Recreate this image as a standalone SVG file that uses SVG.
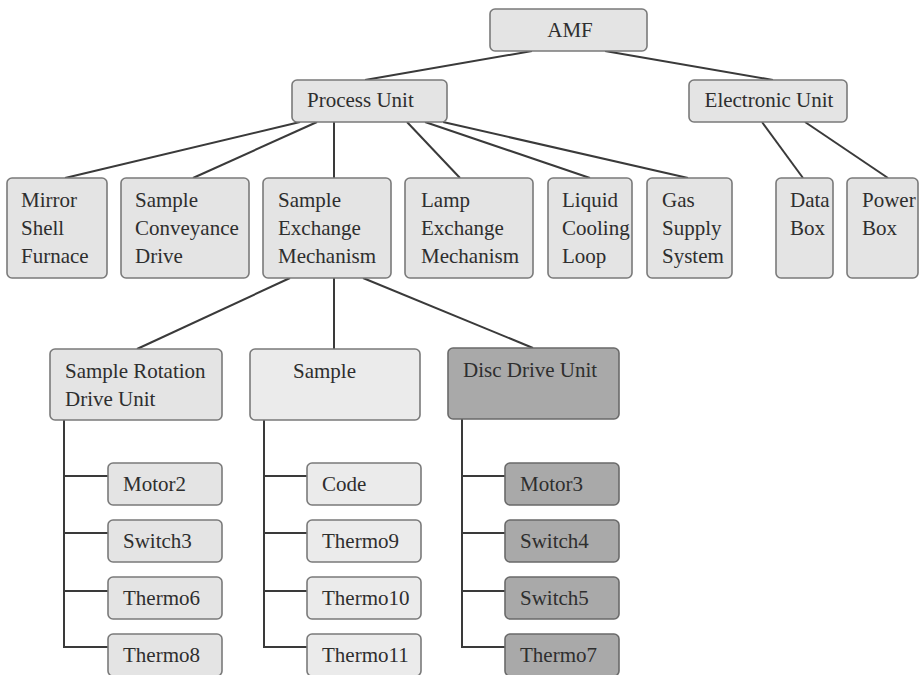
<svg xmlns="http://www.w3.org/2000/svg" width="920" height="675" viewBox="0 0 920 675">
<style>
.n{fill:#e4e4e4;stroke:#7a7a7a;stroke-width:1.6}
.d{fill:#a9a9a9;stroke:#6a6a6a;stroke-width:1.6}
.s{fill:#ebebeb;stroke:#7a7a7a;stroke-width:1.6}
text{font-family:"Liberation Serif","Times New Roman",serif;font-size:21px;fill:#2e2e2e}
.m{text-anchor:middle}
.c{stroke:#3a3a3a;stroke-width:2;fill:none}
</style>
<rect width="920" height="675" fill="#ffffff"/>
<g id="connectors" class="c">
<line x1="532" y1="51" x2="365" y2="80"/>
<line x1="605" y1="51" x2="773" y2="80"/>
<line x1="300" y1="122" x2="65" y2="178"/>
<line x1="317" y1="122" x2="193" y2="178"/>
<line x1="334" y1="122" x2="334" y2="178"/>
<line x1="407" y1="122" x2="460" y2="178"/>
<line x1="425" y1="122" x2="590" y2="178"/>
<line x1="443" y1="122" x2="688" y2="178"/>
<line x1="762" y1="122" x2="803" y2="178"/>
<line x1="805" y1="122" x2="888" y2="178"/>
<line x1="290" y1="278" x2="137" y2="349"/>
<line x1="334" y1="278" x2="334" y2="349"/>
<line x1="363" y1="278" x2="533" y2="348"/>
<polyline points="64,420 64,647 108,647"/>
<line x1="64" y1="476" x2="108" y2="476"/>
<line x1="64" y1="533" x2="108" y2="533"/>
<line x1="64" y1="591" x2="108" y2="591"/>
<polyline points="264,420 264,647 307,647"/>
<line x1="264" y1="476" x2="307" y2="476"/>
<line x1="264" y1="533" x2="307" y2="533"/>
<line x1="264" y1="591" x2="307" y2="591"/>
<polyline points="462,419 462,647 505,647"/>
<line x1="462" y1="476" x2="505" y2="476"/>
<line x1="462" y1="533" x2="505" y2="533"/>
<line x1="462" y1="591" x2="505" y2="591"/>
</g>
<g id="amf"><rect class="n" x="490" y="9" width="157" height="42" rx="5"/><text class="m" x="570" y="37">AMF</text></g>
<g id="process-unit"><rect class="n" x="292" y="80" width="155" height="42" rx="5"/><text x="307" y="107">Process Unit</text></g>
<g id="electronic-unit"><rect class="n" x="689" y="80" width="158" height="42" rx="5"/><text class="m" x="769" y="107">Electronic Unit</text></g>
<g id="mirror-shell-furnace"><rect class="n" x="7" y="178" width="100" height="100" rx="5"/><text x="21" y="207">Mirror</text><text x="21" y="235">Shell</text><text x="21" y="263">Furnace</text></g>
<g id="sample-conveyance-drive"><rect class="n" x="121" y="178" width="128" height="100" rx="5"/><text x="135" y="207">Sample</text><text x="135" y="235">Conveyance</text><text x="135" y="263">Drive</text></g>
<g id="sample-exchange-mechanism"><rect class="n" x="263" y="178" width="128" height="100" rx="5"/><text x="278" y="207">Sample</text><text x="278" y="235">Exchange</text><text x="278" y="263">Mechanism</text></g>
<g id="lamp-exchange-mechanism"><rect class="n" x="405" y="178" width="128" height="100" rx="5"/><text x="421" y="207">Lamp</text><text x="421" y="235">Exchange</text><text x="421" y="263">Mechanism</text></g>
<g id="liquid-cooling-loop"><rect class="n" x="548" y="178" width="84" height="100" rx="5"/><text x="562" y="207">Liquid</text><text x="562" y="235">Cooling</text><text x="562" y="263">Loop</text></g>
<g id="gas-supply-system"><rect class="n" x="647" y="178" width="85" height="100" rx="5"/><text x="662" y="207">Gas</text><text x="662" y="235">Supply</text><text x="662" y="263">System</text></g>
<g id="data-box"><rect class="n" x="776" y="178" width="57" height="100" rx="5"/><text x="790" y="207">Data</text><text x="790" y="235">Box</text></g>
<g id="power-box"><rect class="n" x="847" y="178" width="71" height="100" rx="5"/><text x="862" y="207">Power</text><text x="862" y="235">Box</text></g>
<g id="sample-rotation-drive-unit"><rect class="n" x="50" y="349" width="172" height="71" rx="5"/><text x="65" y="378">Sample Rotation</text><text x="65" y="406">Drive Unit</text></g>
<g id="sample"><rect class="s" x="250" y="349" width="170" height="71" rx="5"/><text x="293" y="378">Sample</text></g>
<g id="disc-drive-unit"><rect class="d" x="448" y="348" width="171" height="71" rx="5"/><text x="463" y="377">Disc Drive Unit</text></g>
<g id="motor2"><rect class="n" x="108" y="463" width="114" height="42" rx="5"/><text x="123" y="491">Motor2</text></g>
<g id="switch3"><rect class="n" x="108" y="520" width="114" height="42" rx="5"/><text x="123" y="548">Switch3</text></g>
<g id="thermo6"><rect class="n" x="108" y="577" width="114" height="42" rx="5"/><text x="123" y="605">Thermo6</text></g>
<g id="thermo8"><rect class="n" x="108" y="634" width="114" height="42" rx="5"/><text x="123" y="662">Thermo8</text></g>
<g id="code"><rect class="s" x="307" y="463" width="114" height="42" rx="5"/><text x="322" y="491">Code</text></g>
<g id="thermo9"><rect class="s" x="307" y="520" width="114" height="42" rx="5"/><text x="322" y="548">Thermo9</text></g>
<g id="thermo10"><rect class="s" x="307" y="577" width="114" height="42" rx="5"/><text x="322" y="605">Thermo10</text></g>
<g id="thermo11"><rect class="s" x="307" y="634" width="114" height="42" rx="5"/><text x="322" y="662">Thermo11</text></g>
<g id="motor3"><rect class="d" x="505" y="463" width="114" height="42" rx="5"/><text x="520" y="491">Motor3</text></g>
<g id="switch4"><rect class="d" x="505" y="520" width="114" height="42" rx="5"/><text x="520" y="548">Switch4</text></g>
<g id="switch5"><rect class="d" x="505" y="577" width="114" height="42" rx="5"/><text x="520" y="605">Switch5</text></g>
<g id="thermo7"><rect class="d" x="505" y="634" width="114" height="42" rx="5"/><text x="520" y="662">Thermo7</text></g>
</svg>
